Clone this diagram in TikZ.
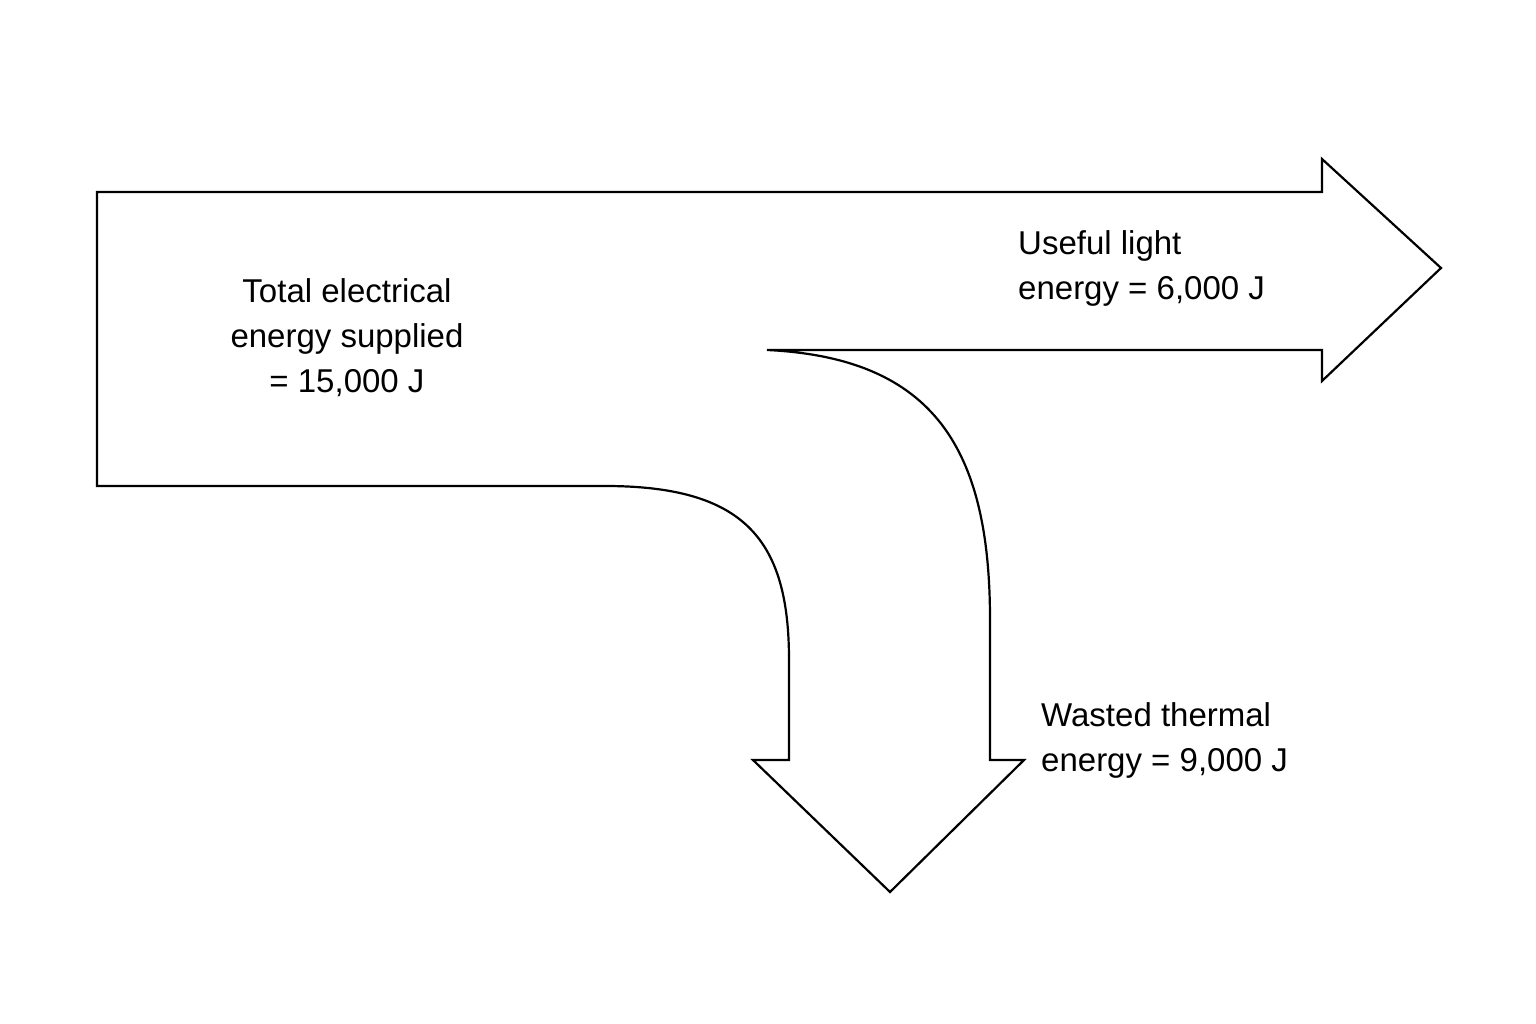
\documentclass[tikz,border=0pt]{standalone}
\usepackage{fontspec}
\setmainfont{Liberation Sans}
\begin{document}
\begin{tikzpicture}[x=1pt,y=-1pt,
  flow/.style={draw=black,line width=2.2pt,line join=miter,fill=white},
  lbl/.style={font=\fontsize{33}{45}\selectfont,inner sep=0pt}]
\useasboundingbox (0,0) rectangle (1536,1024);
\draw[flow] (97,192) -- (1322,192) -- (1322,159) -- (1441,268) -- (1322,381) -- (1322,350)
  -- (767,350) .. controls (935,358) and (990,450) .. (990,620)
  -- (990,760) -- (1024,760) -- (890,892) -- (753,760) -- (789,760) -- (789,660)
  .. controls (789,540) and (745,486) .. (605,486) -- (97,486) -- cycle;
\node[lbl,align=center] (total) at (347,338) {Total electrical\\energy supplied\\= 15,000 J};
\node[lbl,align=left,anchor=west] (light) at (1018,268) {Useful light\\energy = 6,000 J};
\node[lbl,align=left,anchor=west] (heat) at (1041,740) {Wasted thermal\\energy = 9,000 J};
\end{tikzpicture}
\end{document}
